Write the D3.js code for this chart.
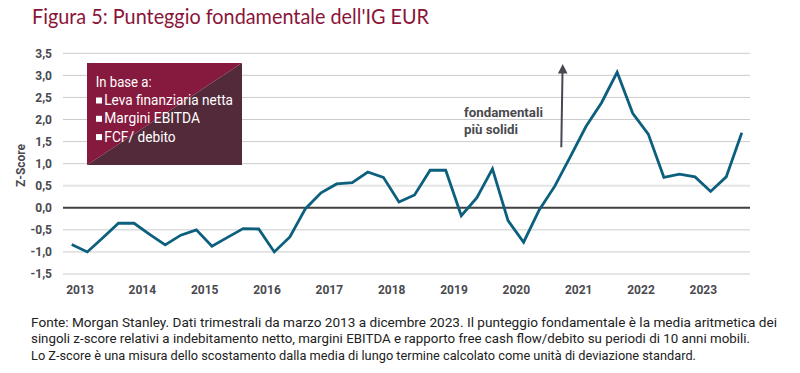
<!DOCTYPE html>
<html><head><meta charset="utf-8">
<script src="https://cdn.jsdelivr.net/npm/d3@7"></script>
<style>body{margin:0;background:#fff}svg{display:block}</style>
</head><body><svg id="c" width="800" height="373"></svg>
<script>
const years = ["2013","2014","2015","2016","2017","2018","2019","2020","2021","2022","2023"];
const quarters = years.flatMap(yr => ["Q1","Q2","Q3","Q4"].map(q => yr + "-" + q));
const values = [-0.83,-1.0,-0.68,-0.35,-0.35,-0.6,-0.84,-0.62,-0.5,-0.87,-0.67,-0.47,
  -0.48,-1.0,-0.66,-0.02,0.34,0.54,0.57,0.81,0.69,0.13,0.29,0.85,0.85,-0.18,0.23,0.88,
  -0.29,-0.78,-0.05,0.49,1.16,1.84,2.38,3.07,2.14,1.67,0.69,0.76,0.70,0.37,0.70,1.70];
const yTicks = [-1.5,-1,-0.5,0,0.5,1,1.5,2,2.5,3,3.5];
const title = "Figura 5: Punteggio fondamentale dell'IG EUR";
const legendTitle = "In base a:";
const legendItems = ["Leva finanziaria netta","Margini EBITDA","FCF/ debito"];
const annotation = ["fondamentali","più solidi"];
const footnote = [
  "Fonte: Morgan Stanley. Dati trimestrali da marzo 2013 a dicembre 2023. Il punteggio fondamentale è la media aritmetica dei",
  "singoli z-score relativi a indebitamento netto, margini EBITDA e rapporto free cash flow/debito su periodi di 10 anni mobili.",
  "Lo Z-score è una misura dello scostamento dalla media di lungo termine calcolato come unità di deviazione standard."
];

const svg = d3.select("#c");
const x = d3.scaleLinear().domain([0, quarters.length - 1]).range([71.7, 741.8]);
const y = d3.scaleLinear().domain([-1.5, 3.5]).range([274, 53.3]);
const fmt = d => d3.format(".1f")(d).replace(".", ",").replace("\u2212", "-");
const axisFont = "Roboto, 'DejaVu Sans', sans-serif";
const gray = "#4a4a4f";

// title
svg.append("text").attr("x", 32).attr("y", 24)
  .attr("font-family", "Lato, 'Open Sans', sans-serif").attr("font-size", 21)
  .attr("fill", "#8a1538").attr("textLength", 397).attr("lengthAdjust", "spacingAndGlyphs")
  .text(title);

// gridlines
svg.append("g").selectAll("line").data(yTicks).join("line")
  .attr("x1", 63).attr("x2", 750)
  .attr("y1", d => y(d)).attr("y2", d => y(d))
  .attr("stroke", d => d === 0 ? "#404040" : (d === 0.5 ? "#e4e4e4" : "#cbcbcb"))
  .attr("stroke-width", d => d === 0 ? 2 : (d === 0.5 ? 2 : 1));

// y axis
const ya = svg.append("g").attr("transform", "translate(63,0)")
  .call(d3.axisLeft(y).tickValues(yTicks).tickFormat(fmt).tickSize(0).tickPadding(11));
ya.select(".domain").remove();
ya.selectAll("text").attr("font-family", axisFont).attr("font-weight", 700)
  .attr("font-size", 12).attr("fill", gray);

// x axis
const xa = svg.append("g").attr("transform", "translate(0,282)")
  .call(d3.axisBottom(x).tickValues(years.map((_, i) => i * 4 + 0.5))
    .tickFormat((d, i) => years[i]).tickSize(0).tickPadding(3));
xa.select(".domain").remove();
xa.selectAll("text").attr("font-family", axisFont).attr("font-weight", 700)
  .attr("font-size", 12).attr("fill", gray);

// y title
svg.append("text").attr("transform", "translate(25,165.5) rotate(-90)")
  .attr("text-anchor", "middle").attr("font-family", axisFont).attr("font-weight", 700)
  .attr("font-size", 12).attr("fill", gray).text("Z-Score");

// line
svg.append("path").datum(values)
  .attr("d", d3.line().x((d, i) => x(i)).y(d => y(d)))
  .attr("fill", "none").attr("stroke", "#0c5f7d").attr("stroke-width", 2.8)
  .attr("stroke-linejoin", "miter");

// legend box
const bx0 = 87, bx1 = 242, by0 = 63, by1 = 165;
svg.append("path").attr("d", `M${bx0},${by0}L${bx1},${by0}L${bx0},${by1}Z`).attr("fill", "#861a3e");
svg.append("path").attr("d", `M${bx1},${by0}L${bx1},${by1}L${bx0},${by1}Z`).attr("fill", "#532a3a");
const lf = "Roboto, 'Open Sans', sans-serif";
svg.append("text").attr("x", 95.7).attr("y", 86.5).attr("font-family", lf).attr("font-size", 14)
  .attr("fill", "#fff").attr("textLength", 56).attr("lengthAdjust", "spacingAndGlyphs").text(legendTitle);
const legendWidths = [128.7, 95.7, 71.4];
const lg = svg.append("g").selectAll("g").data(legendItems).join("g")
  .attr("transform", (d, i) => `translate(96,${105 + i * 18.3})`);
lg.append("rect").attr("x", 0).attr("y", -7.5).attr("width", 6).attr("height", 6).attr("fill", "#fff");
lg.append("text").attr("x", 8.3).attr("y", 0).attr("font-family", lf).attr("font-size", 14)
  .attr("fill", "#fff").attr("textLength", (d, i) => legendWidths[i])
  .attr("lengthAdjust", "spacingAndGlyphs").text(d => d);

// annotation
svg.append("g").selectAll("text").data(annotation).join("text")
  .attr("x", 464).attr("y", (d, i) => 116.5 + i * 17)
  .attr("font-family", axisFont).attr("font-weight", 700).attr("font-size", 12.5)
  .attr("fill", gray).attr("textLength", (d, i) => [79, 54][i])
  .attr("lengthAdjust", "spacingAndGlyphs").text(d => d);
svg.append("line").attr("x1", 561.3).attr("y1", 147.3).attr("x2", 562.5).attr("y2", 72)
  .attr("stroke", "#484852").attr("stroke-width", 2);
svg.append("path").attr("d", "M562.7,64L567.5,73.5L557.9,73.5Z").attr("fill", "#484852");

// footnote
svg.append("g").selectAll("text").data(footnote).join("text")
  .attr("x", 31).attr("y", (d, i) => 326.5 + i * 16.5)
  .attr("font-family", "Roboto, sans-serif").attr("font-size", 13).attr("fill", "#222")
  .attr("textLength", (d, i) => [746, 719, 665][i]).attr("lengthAdjust", "spacingAndGlyphs")
  .text(d => d);
</script></body></html>
